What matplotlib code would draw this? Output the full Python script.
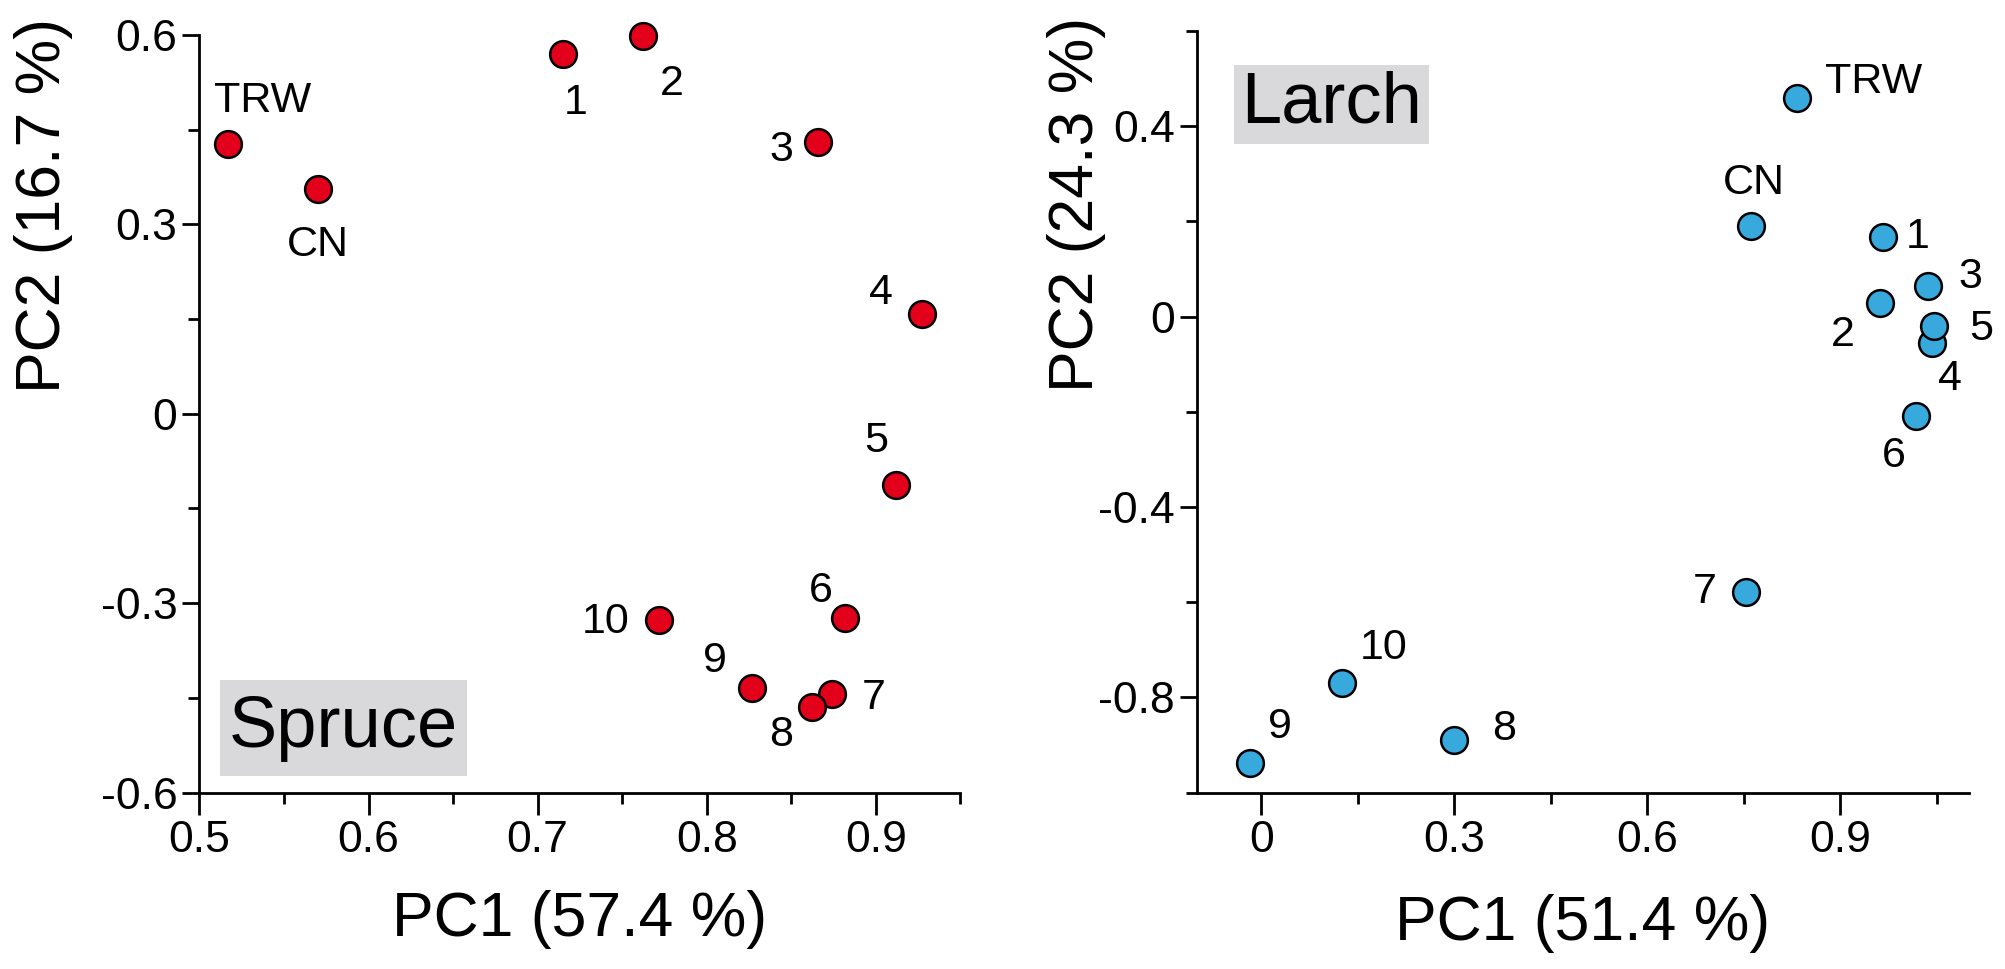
import matplotlib
matplotlib.use("Agg")
import matplotlib.pyplot as plt
from matplotlib.patches import Rectangle
from matplotlib.ticker import FixedLocator

plt.rcParams['font.family'] = ['Liberation Sans', 'DejaVu Sans']

# Spruce data
spruce_labels = ["TRW", "CN", "1", "2", "3", "4", "5", "6", "7", "8", "9", "10"]
spruce_pc1 = [0.517, 0.570, 0.715, 0.762, 0.866, 0.927, 0.912, 0.882, 0.874, 0.862, 0.827, 0.772]
spruce_pc2 = [0.427, 0.356, 0.569, 0.599, 0.431, 0.158, -0.113, -0.324, -0.443, -0.464, -0.435, -0.326]
spruce_offsets = [(25, 31), (0, -40), (9, -35), (21, -35), (-27, -6), (-29, 15), (-14, 32),
                  (-18, 20), (30, -3), (-22, -20), (-27, 20), (-39, -2)]

# Larch data
larch_labels = ["TRW", "CN", "1", "2", "3", "4", "5", "6", "7", "8", "9", "10"]
larch_pc1 = [0.833, 0.762, 0.967, 0.962, 1.037, 1.042, 1.045, 1.018, 0.754, 0.300, -0.018, 0.126]
larch_pc2 = [0.460, 0.190, 0.167, 0.028, 0.065, -0.055, -0.020, -0.208, -0.578, -0.890, -0.938, -0.769]
larch_offsets = [(55, 11), (2, 31), (25, 0), (-27, -23), (30, 6), (13, -26), (34, -2),
                 (-16, -29), (-30, 0), (36, 8), (22, 26), (30, 25)]

fig = plt.figure(figsize=(20.05, 9.69), dpi=100)
ax1 = fig.add_axes([0.0995, 0.182, 0.3795, 0.782])
ax2 = fig.add_axes([0.597, 0.182, 0.385, 0.786])

def style(ax):
    for s in ['top', 'right']:
        ax.spines[s].set_visible(False)
    for s in ['left', 'bottom']:
        ax.spines[s].set_linewidth(2.0)
    ax.tick_params(which='major', direction='out', width=2.0, labelsize=32, pad=4)
    ax.tick_params(which='minor', direction='out', length=8, width=2.0)
    ax.tick_params(axis='x', which='major', length=16)
    ax.tick_params(axis='y', which='major', length=12)

# Left panel
ax1.scatter(spruce_pc1, spruce_pc2, s=370, c='#e2001a', edgecolors='black', linewidths=1.8, zorder=3, clip_on=False)
for lab, x, y, off in zip(spruce_labels, spruce_pc1, spruce_pc2, spruce_offsets):
    ax1.annotate(lab, (x, y), xytext=off, textcoords='offset points', ha='center', va='center', fontsize=31)
ax1.set_xlim(0.5, 0.95)
ax1.set_ylim(-0.6, 0.6)
ax1.xaxis.set_major_locator(FixedLocator([0.5, 0.6, 0.7, 0.8, 0.9]))
ax1.xaxis.set_minor_locator(FixedLocator([0.55, 0.65, 0.75, 0.85, 0.95]))
ax1.yaxis.set_major_locator(FixedLocator([-0.6, -0.3, 0, 0.3, 0.6]))
ax1.yaxis.set_minor_locator(FixedLocator([-0.45, -0.15, 0.15, 0.45]))
ax1.set_xticklabels(["0.5", "0.6", "0.7", "0.8", "0.9"])
ax1.set_yticklabels(["-0.6", "-0.3", "0", "0.3", "0.6"])
style(ax1)
ax1.set_xlabel("PC1 (57.4 %)", fontsize=45, va='center')
ax1.xaxis.set_label_coords(0.5, -0.168)
ax1.set_ylabel("PC2 (16.7 %)", fontsize=45, va='center', ha='center')
ax1.yaxis.set_label_coords(-0.205, 0.775)
ax1.add_patch(Rectangle((0.027, 0.022), 0.324, 0.126, transform=ax1.transAxes, facecolor='#d9d9db', edgecolor='none', zorder=1))
ax1.text(0.189, 0.085, "Spruce", transform=ax1.transAxes, ha='center', va='center', fontsize=52, zorder=2)

# Right panel
ax2.scatter(larch_pc1, larch_pc2, s=370, c='#38a9dc', edgecolors='black', linewidths=1.8, zorder=3, clip_on=False)
for lab, x, y, off in zip(larch_labels, larch_pc1, larch_pc2, larch_offsets):
    ax2.annotate(lab, (x, y), xytext=off, textcoords='offset points', ha='center', va='center', fontsize=31)
ax2.set_xlim(-0.1, 1.1)
ax2.set_ylim(-1.0, 0.6)
ax2.xaxis.set_major_locator(FixedLocator([0, 0.3, 0.6, 0.9]))
ax2.xaxis.set_minor_locator(FixedLocator([0.15, 0.45, 0.75, 1.05]))
ax2.yaxis.set_major_locator(FixedLocator([-0.8, -0.4, 0, 0.4]))
ax2.yaxis.set_minor_locator(FixedLocator([-1.0, -0.6, -0.2, 0.2, 0.6]))
ax2.set_xticklabels(["0", "0.3", "0.6", "0.9"])
ax2.set_yticklabels(["-0.8", "-0.4", "0", "0.4"])
style(ax2)
ax2.set_xlabel("PC1 (51.4 %)", fontsize=45, va='center')
ax2.xaxis.set_label_coords(0.5, -0.172)
ax2.set_ylabel("PC2 (24.3 %)", fontsize=45, va='center', ha='center')
ax2.yaxis.set_label_coords(-0.156, 0.772)
ax2.add_patch(Rectangle((0.048, 0.852), 0.252, 0.104, transform=ax2.transAxes, facecolor='#d9d9db', edgecolor='none', zorder=1))
ax2.text(0.174, 0.904, "Larch", transform=ax2.transAxes, ha='center', va='center', fontsize=52, zorder=2)

fig.savefig("out.png", dpi=100)
